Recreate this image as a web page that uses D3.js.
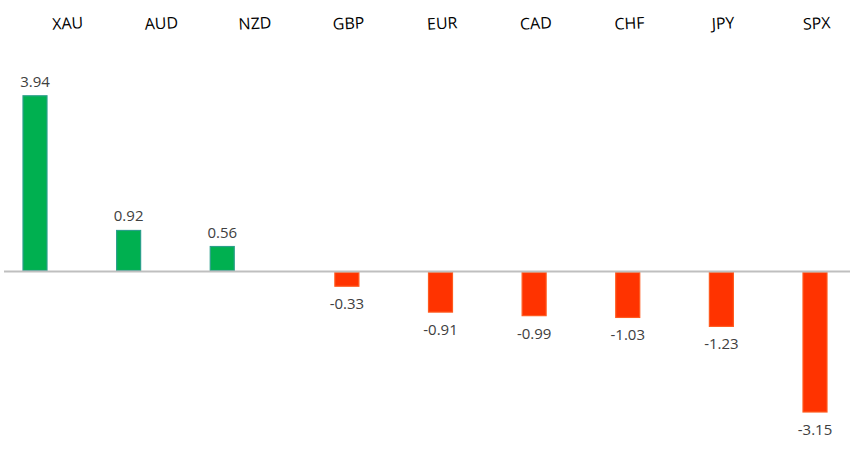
<!DOCTYPE html>
<html>
<head>
<meta charset="utf-8">
<script src="https://cdn.jsdelivr.net/npm/d3@7"></script>
<style>
  body { margin: 0; background: #fff; }
  svg { display: block; }
</style>
</head>
<body>
<div id="chart"></div>
<script>
// Data
const categories = ['XAU', 'AUD', 'NZD', 'GBP', 'EUR', 'CAD', 'CHF', 'JPY', 'SPX'];
const changes = [3.94, 0.92, 0.56, -0.33, -0.91, -0.99, -1.03, -1.23, -3.15];

let width = 852,
    height = 450,
    zeroY = 271.5,
    unit = 44.6,
    barWidth = 24,
    posShift = -31;

let svg = d3.select('#chart')
    .append('svg')
    .attr('width', width)
    .attr('height', height);

let x = d3.scalePoint()
    .domain(categories)
    .range([66, 815]);

let y = d3.scaleLinear()
    .domain([-1, 1])
    .range([zeroY + unit, zeroY - unit]);

// positive bars sit a little left of their label in the original
function barCenter(d, i) {
    return x(categories[i]) + (d > 0 ? posShift : 0);
}

// Bars
svg.selectAll('.bar')
    .data(changes)
    .enter()
    .append('rect')
    .attr('class', 'bar')
    .attr('x', (d, i) => barCenter(d, i) - barWidth / 2)
    .attr('width', barWidth)
    .attr('y', d => d > 0 ? y(d) : y(0) + 1)
    .attr('height', d => Math.abs(y(d) - y(0)) - 1)
    .attr('fill', d => d > 0 ? '#00B050' : '#FF3300')
    .attr('stroke', d => d > 0 ? '#2BA08A' : '#FF5A1E')
    .attr('stroke-width', 1.2);

// Zero line
svg.append('line')
    .attr('x1', 4)
    .attr('x2', 850)
    .attr('y1', y(0))
    .attr('y2', y(0))
    .style('stroke', '#BFBFBF')
    .style('stroke-width', 2);

// Category labels along the top, slightly tilted
svg.selectAll('.cat')
    .data(categories)
    .enter()
    .append('text')
    .attr('class', 'cat')
    .attr('transform', d => 'translate(' + (x(d) + 2) + ',29) rotate(-3)')
    .attr('text-anchor', 'middle')
    .style('font-family', '"Open Sans", sans-serif')
    .style('font-size', '16px')
    .style('fill', '#000')
    .text(d => d);

// Value labels
svg.selectAll('.val')
    .data(changes)
    .enter()
    .append('text')
    .attr('class', 'val')
    .attr('x', (d, i) => barCenter(d, i))
    .attr('y', d => d > 0 ? y(d) - 9 : y(d) + 23)
    .attr('text-anchor', 'middle')
    .style('font-family', '"Open Sans", sans-serif')
    .style('font-size', '15px')
    .style('fill', '#404040')
    .text(d => d.toFixed(2));
</script>
</body>
</html>
